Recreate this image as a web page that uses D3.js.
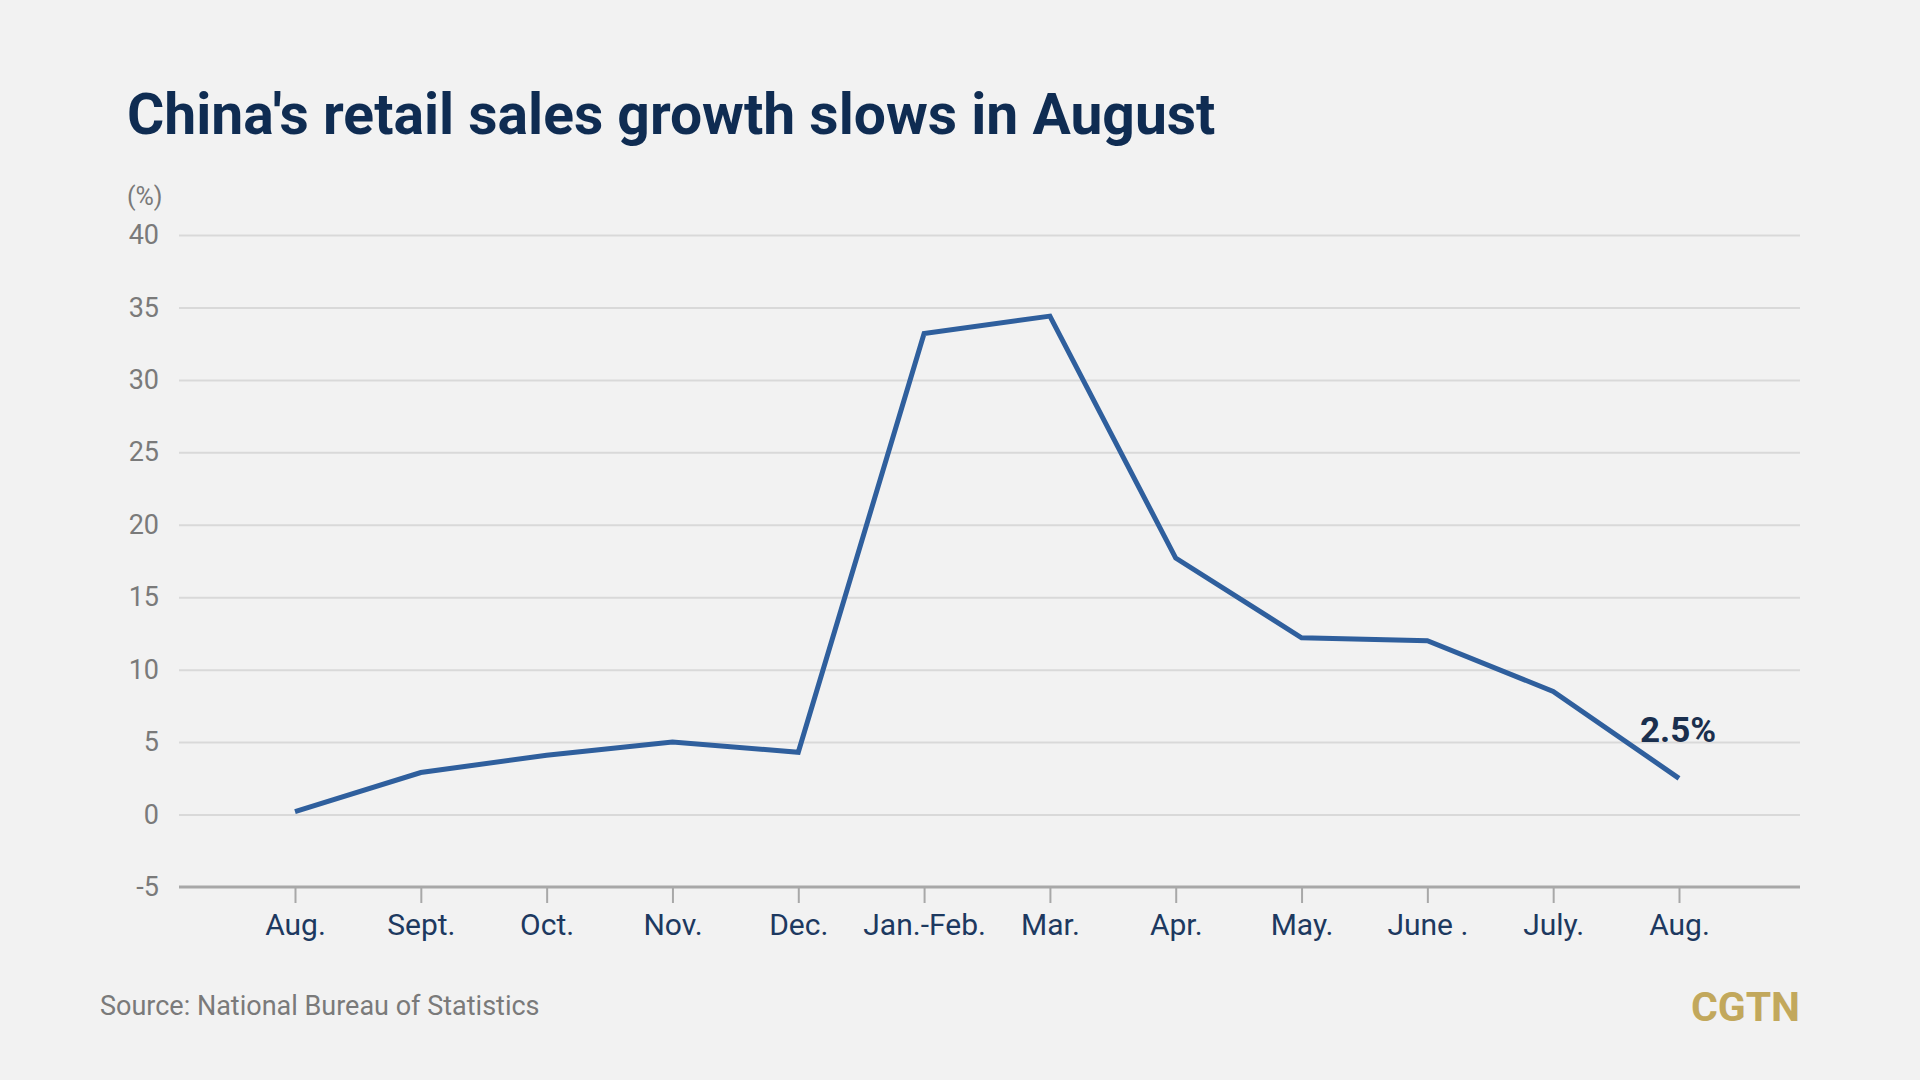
<!DOCTYPE html>
<html>
<head>
<meta charset="utf-8">
<script src="https://cdn.jsdelivr.net/npm/d3@7"></script>
<style>
  body { margin: 0; background: #f2f2f2; }
  text { font-family: Roboto, "Noto Sans", sans-serif; }
</style>
</head>
<body>
<div id="vis"></div>
<script>
// data (retail sales, y/y %)
const months = ["Aug.", "Sept.", "Oct.", "Nov.", "Dec.", "Jan.-Feb.", "Mar.", "Apr.", "May.", "June .", "July.", "Aug."];
const growth = [0.2, 2.9, 4.1, 5.0, 4.3, 33.2, 34.4, 17.7, 12.2, 12.0, 8.5, 2.5];
const yTicks = [-5, 0, 5, 10, 15, 20, 25, 30, 35, 40];

var width = 1920, height = 1080;

const svg = d3.select("#vis")
  .append("svg")
  .attr("width", width)
  .attr("height", height)
  .style("background", "#f2f2f2");

// plot area (window.top is taken, so prefix these)
var plotLeft = 179, plotRight = 1800, plotTop = 235, plotBottom = 887;

// x uses keys with index so the two "Aug." don't collide
const keys = months.map((m, i) => i);
const x = d3.scalePoint().domain(keys).range([295, 1679]);
const y = d3.scaleLinear().domain([-5, 40]).range([plotBottom, plotTop]);

// title
svg.append("text")
  .attr("x", 127)
  .attr("y", 134)
  .style("font-size", "57px")
  .style("font-weight", "bold")
  .style("fill", "#0f2c52")
  .text("China's retail sales growth slows in August");

// unit
svg.append("text")
  .attr("x", 127)
  .attr("y", 205)
  .style("font-size", "25px")
  .style("fill", "#7a7a7a")
  .text("(%)");

// y axis with gridlines
const yAxis = svg.append("g")
  .attr("transform", `translate(${plotLeft},0)`)
  .call(d3.axisLeft(y).tickValues(yTicks).tickFormat(d => String(d)).tickSize(-(plotRight - plotLeft)).tickPadding(20));
yAxis.select(".domain").remove();
yAxis.selectAll(".tick line")
  .attr("stroke", "#d9d9d9")
  .attr("stroke-width", 2);
yAxis.selectAll(".tick text")
  .style("font-size", "27px")
  .style("fill", "#7a7a7a");
yAxis.selectAll(".tick").filter(d => d == -5).select("line").remove();

// x axis
const xAxis = svg.append("g")
  .attr("transform", `translate(0,${plotBottom})`)
  .call(d3.axisBottom(x).tickSize(16).tickPadding(11).tickFormat(i => months[i]));
xAxis.select(".domain").remove();
xAxis.selectAll(".tick line")
  .attr("stroke", "#a8a8a8")
  .attr("stroke-width", 2);
xAxis.selectAll(".tick text")
  .style("font-size", "30px")
  .style("fill", "#1d3960");

svg.append("line")
  .attr("x1", plotLeft)
  .attr("x2", plotRight)
  .attr("y1", y(-5))
  .attr("y2", y(-5))
  .attr("stroke", "#a8a8a8")
  .attr("stroke-width", 3);

// the line
const line = d3.line()
  .x((d, i) => x(i))
  .y(d => y(d));

svg.append("path")
  .datum(growth)
  .attr("fill", "none")
  .attr("stroke", "#2f5f9d")
  .attr("stroke-width", 5)
  .attr("stroke-linejoin", "miter")
  .attr("d", line);

// label for the last point
var last = growth.length - 1;
svg.append("text")
  .attr("x", x(last) - 1)
  .attr("y", y(growth[last]) - 36)
  .attr("text-anchor", "middle")
  .style("font-size", "35px")
  .style("font-weight", "bold")
  .style("fill", "#1a2f4e")
  .text(growth[last] + "%");

// footer
svg.append("text")
  .attr("x", 100)
  .attr("y", 1015)
  .style("font-size", "27px")
  .style("fill", "#7a7a7a")
  .text("Source: National Bureau of Statistics");

svg.append("text")
  .attr("x", 1800)
  .attr("y", 1021)
  .attr("text-anchor", "end")
  .style("font-size", "41px")
  .style("font-weight", "bold")
  .style("fill", "#c2a85c")
  .text("CGTN");
</script>
</body>
</html>
